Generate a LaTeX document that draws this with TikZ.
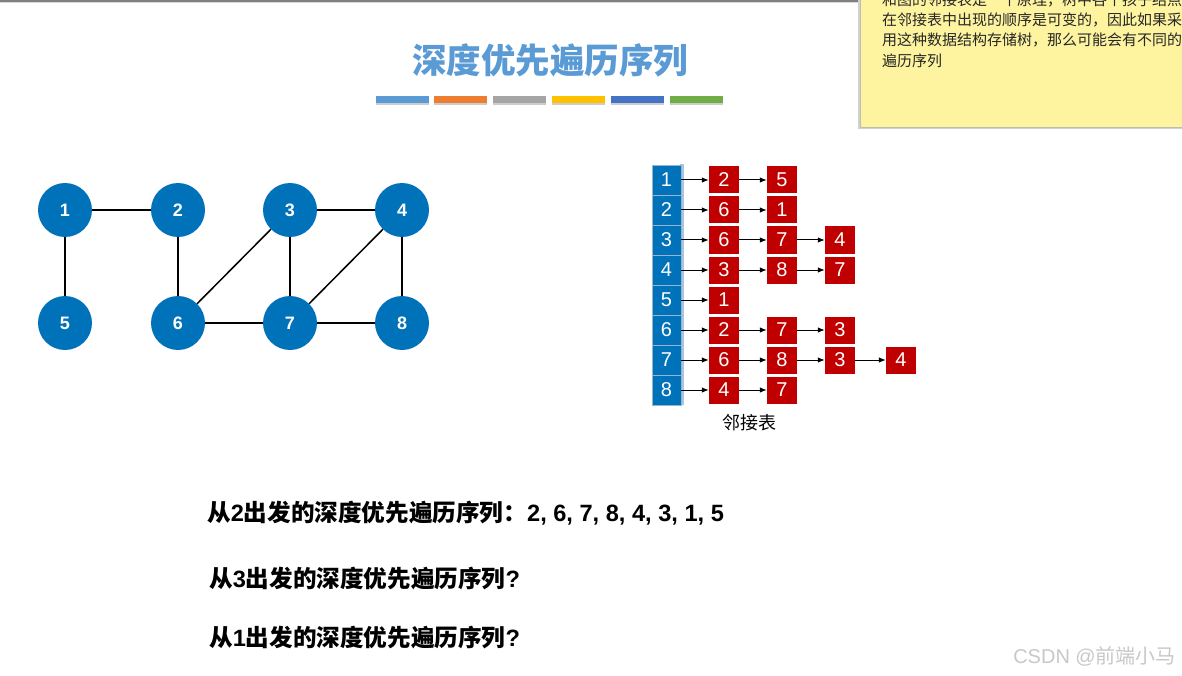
\documentclass[tikz,border=0pt]{standalone}
\usepackage{fontspec}
\setmainfont{Liberation Sans}
\newfontfamily\cjk{Noto Sans CJK SC}
\usetikzlibrary{arrows.meta}
\definecolor{titleblue}{RGB}{91,155,213}
\definecolor{nodeblue}{RGB}{0,114,186}
\definecolor{cellline}{RGB}{150,180,205}
\definecolor{cellstrip}{RGB}{170,198,222}
\definecolor{boxred}{RGB}{192,0,0}
\definecolor{barA}{RGB}{91,155,213}
\definecolor{barB}{RGB}{237,125,49}
\definecolor{barC}{RGB}{165,165,165}
\definecolor{barD}{RGB}{255,192,0}
\definecolor{barE}{RGB}{68,114,196}
\definecolor{barF}{RGB}{112,173,71}
\definecolor{notefill}{RGB}{254,244,160}
\definecolor{noteline}{RGB}{190,190,175}
\definecolor{marktext}{RGB}{200,200,200}
\tikzset{
  gnode/.style={circle, fill=nodeblue, minimum size=54pt, inner sep=0pt, text=white, font=\bfseries\fontsize{18}{20}\selectfont},
  edge/.style={line width=1.5pt, black},
  headcell/.style={rectangle, fill=nodeblue, draw=cellline, line width=0.8pt, minimum width=29pt, minimum height=30pt, inner sep=0pt, text=white, font=\fontsize{20}{22}\selectfont},
  listbox/.style={rectangle, fill=boxred, minimum width=30pt, minimum height=27pt, inner sep=0pt, text=white, font=\fontsize{20}{22}\selectfont},
  arr/.style={line width=1pt, black, -{Latex[length=7pt,width=5.5pt]}},
  bar/.style={minimum width=53pt, minimum height=7pt, inner sep=0pt},
  notetext/.style={anchor=west, inner sep=0pt, font=\cjk\fontsize{15}{17}\selectfont, text=black!85},
  bottomtext/.style={anchor=west, inner sep=0pt, font=\bfseries\fontsize{23.6}{26}\selectfont, text=black}
}
\begin{document}
\begin{tikzpicture}[x=1pt, y=-1pt]
\clip (0,0) rectangle (1182,676);
\fill[white] (0,0) rectangle (1182,676);
% top border line
\fill[black!50] (0,0.5) rectangle (860,2.5);
\fill[black!15] (0,2.5) rectangle (860,3.5);

% title
\node[font=\cjk\bfseries\fontsize{34.5}{40}\selectfont, text=titleblue, inner sep=0pt] (title) at (550,60) {深度优先遍历序列};

% colour bars
\foreach \x/\c in {402.5/barA, 460/barB, 519/barC, 578/barD, 637/barE, 696.5/barF}{
  \fill[black!20] (\x-26.5,98) rectangle (\x+26.5,105);
  \node[bar, fill=\c] at (\x,99.5) {};
}

% sticky note
\fill[black!18] (858,-5) rectangle (1190,129);
\fill[notefill, draw=noteline, line width=0.8pt] (860,-5) rectangle (1190,127);
\node[notetext] (nl1) at (882,0) {和图的邻接表是一个原理，树中各个孩子结点};
\node[notetext] (nl2) at (882,20) {在邻接表中出现的顺序是可变的，因此如果采};
\node[notetext] (nl3) at (882,40) {用这种数据结构存储树，那么可能会有不同的};
\node[notetext] (nl4) at (882,61) {遍历序列};

% graph
\node[gnode] (n1) at (65,210) {1};
\node[gnode] (n2) at (178,210) {2};
\node[gnode] (n3) at (290,210) {3};
\node[gnode] (n4) at (402,210) {4};
\node[gnode] (n5) at (65,323) {5};
\node[gnode] (n6) at (178,323) {6};
\node[gnode] (n7) at (290,323) {7};
\node[gnode] (n8) at (402,323) {8};
\draw[edge] (n1) -- (n2);
\draw[edge] (n1) -- (n5);
\draw[edge] (n2) -- (n6);
\draw[edge] (n3) -- (n4);
\draw[edge] (n3) -- (n6);
\draw[edge] (n3) -- (n7);
\draw[edge] (n4) -- (n7);
\draw[edge] (n4) -- (n8);
\draw[edge] (n6) -- (n7);
\draw[edge] (n7) -- (n8);

% adjacency list head column
\fill[cellstrip] (680,164) rectangle (684,405);
\foreach \i in {1,...,8}{
  \node[headcell] (h\i) at (666.5,{150+30*\i}) {\i};
}

% list boxes
\foreach \row/\items in {1/{2,5}, 2/{6,1}, 3/{6,7,4}, 4/{3,8,7}, 5/{1}, 6/{2,7,3}, 7/{6,8,3,4}, 8/{4,7}}{
  \foreach \v [count=\k] in \items {
    \pgfmathsetmacro{\bx}{\k==1 ? 724 : (\k==2 ? 782 : (\k==3 ? 840 : 901))}
    \node[listbox] (r\row-\k) at (\bx,{150+30*\row}) {\v};
  }
}
% arrows
\foreach \row/\n in {1/2, 2/2, 3/3, 4/3, 5/1, 6/3, 7/4, 8/2}{
  \draw[arr] (h\row) -- (r\row-1);
  \ifnum\n>1
    \foreach \k [evaluate=\k as \j using int(\k+1)] in {1,...,\numexpr\n-1\relax}{
      \draw[arr] (r\row-\k) -- (r\row-\j);
    }
  \fi
}
\node[font=\cjk\fontsize{18}{20}\selectfont, inner sep=0pt] (adjlabel) at (749,423) {邻接表};

% bottom text
\node[bottomtext] (q1) at (207,513) {{\cjk 从}2{\cjk 出发的深度优先遍历序列：}2, 6, 7, 8, 4, 3, 1, 5};
\node[bottomtext] (q2) at (209,579) {{\cjk 从}3{\cjk 出发的深度优先遍历序列}?};
\node[bottomtext] (q3) at (209,638) {{\cjk 从}1{\cjk 出发的深度优先遍历序列}?};

% watermark
\node[anchor=east, inner sep=0pt, text=marktext, font=\fontsize{20}{22}\selectfont] (mark) at (1176,656) {CSDN @{\cjk 前端小马}};
\end{tikzpicture}
\end{document}
